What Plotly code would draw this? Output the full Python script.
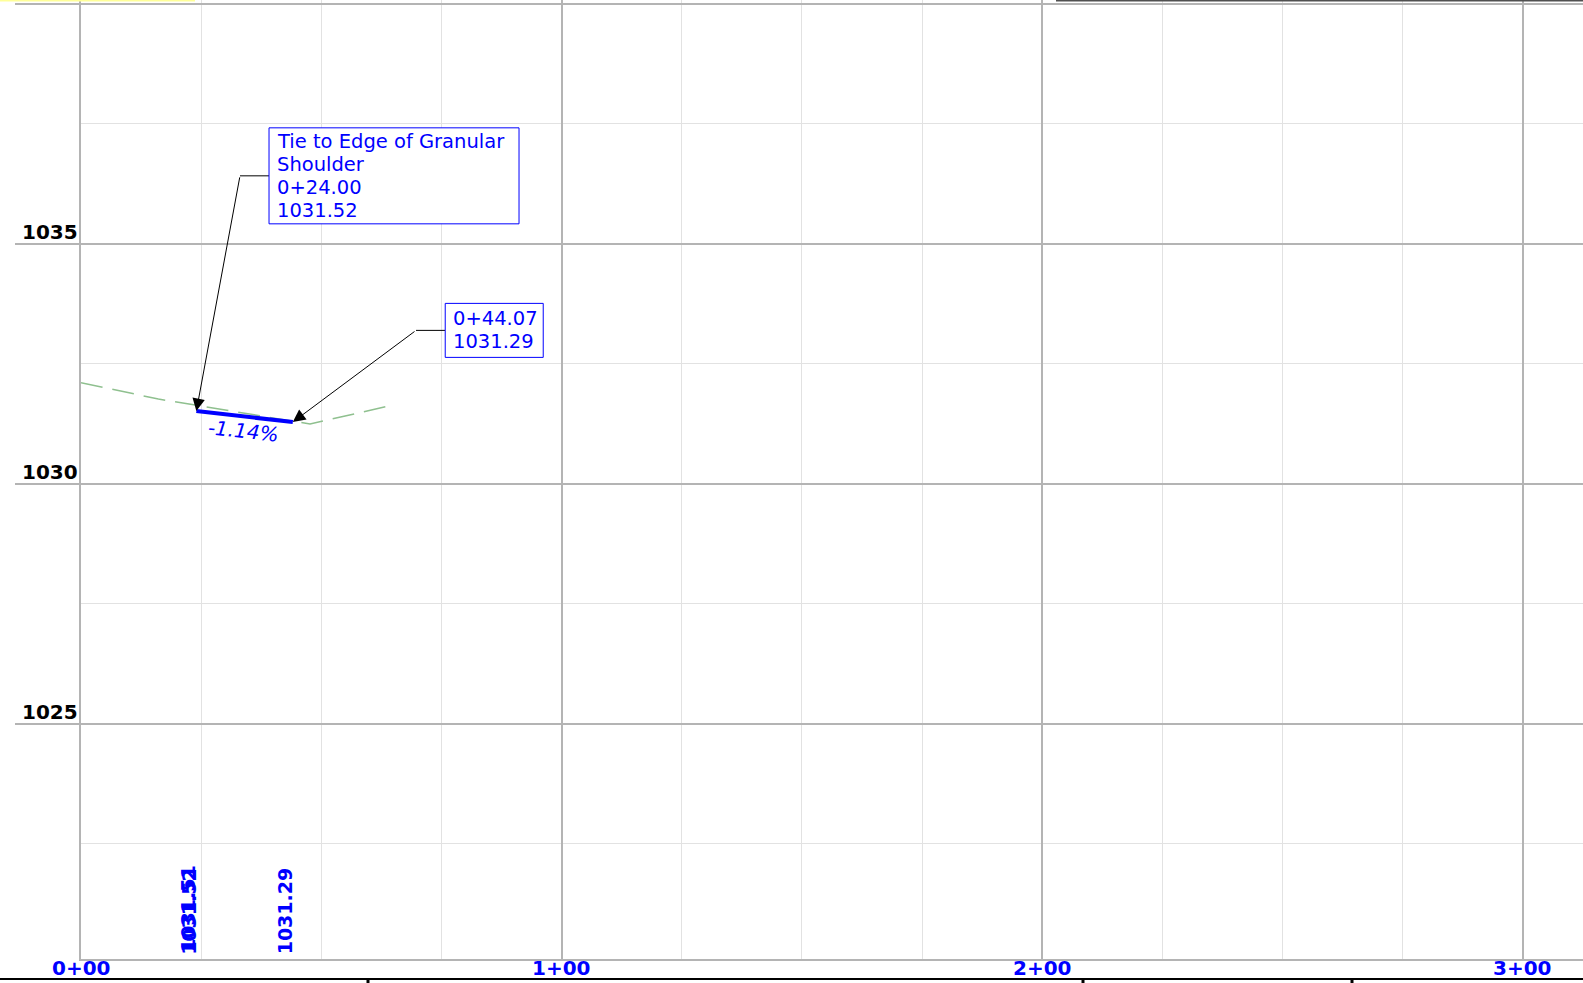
import plotly.graph_objects as go

# ---------------- data ----------------
station_ticks = [0, 100, 200, 300]
station_labels = ["0+00", "1+00", "2+00", "3+00"]
elev_grid = [1025, 1030, 1035, 1040]
elev_label_vals = [1025, 1030, 1035]
elev_label_text = ["1025", "1030", "1035"]

ground_sta = [0.0, 16.1, 47.65, 64.3]
ground_elev = [1032.11, 1031.77, 1031.25, 1031.63]

design_sta = [24.00, 44.07]
design_elev = [1031.52, 1031.29]
slope_text = "-1.14%"
slope_pos = [33.8, 1031.11]

callout1_lines = ["Tie to Edge of Granular", "Shoulder", "0+24.00", "1031.52"]
callout1_elbow = [33.08, 1036.42]
callout1_box_x = 39.12
callout2_lines = ["0+44.07", "1031.29"]
callout2_elbow = [69.70, 1033.20]
callout2_box_x = 75.78

bottom_sta = [23.8, 24.00, 44.07]
bottom_text = ["1031.51", "1031.52", "1031.29"]
bottom_yshift = [5, 2, 3]

X_RANGE = [0, 312.5]
Y_RANGE = [1020.104, 1040.083]

W, H = 1583, 983
ML, MR, MT, MB = 81, 0, 0, 24
PW = W - ML - MR
PH = H - MT - MB

BLUE = "#0000ff"
MAJOR = "#b4b4b4"
MINOR = "#e2e2e2"
FONT = "DejaVu Sans"
TXT = 19.5
LINE_H = 22.9


def px_to_paper_x(px):
    return (px - ML) / PW


def py_to_paper_y(py):
    return (H - MB - py) / PH


fig = go.Figure()

fig.add_trace(go.Scatter(
    x=ground_sta, y=ground_elev, mode="lines",
    line=dict(color="#8fc08f", width=1.5, dash="22px,10px"),
    hoverinfo="skip", showlegend=False))

fig.add_trace(go.Scatter(
    x=design_sta, y=design_elev, mode="lines",
    line=dict(color=BLUE, width=4),
    hoverinfo="skip", showlegend=False))

shapes = []
# left extension of the major elevation gridlines
for v in elev_grid:
    shapes.append(dict(type="line", xref="paper", yref="y",
                       x0=px_to_paper_x(15), x1=0, y0=v, y1=v,
                       line=dict(color=MAJOR, width=2)))

# callout elbows
shapes.append(dict(type="line", xref="x", yref="y",
                   x0=callout1_elbow[0], x1=callout1_box_x,
                   y0=callout1_elbow[1], y1=callout1_elbow[1],
                   line=dict(color="black", width=1)))
shapes.append(dict(type="line", xref="x", yref="y",
                   x0=callout2_elbow[0], x1=callout2_box_x,
                   y0=callout2_elbow[1], y1=callout2_elbow[1],
                   line=dict(color="black", width=1)))

# callout boxes (pixel sized, anchored at the leader end)
for bx, by, bw, bh in [(callout1_box_x, callout1_elbow[1], 250, 96),
                       (callout2_box_x, callout2_elbow[1], 98, 54)]:
    shapes.append(dict(type="rect", xref="x", yref="y",
                       xsizemode="pixel", ysizemode="pixel",
                       xanchor=bx, yanchor=by,
                       x0=0, x1=bw, y0=-bh / 2, y1=bh / 2,
                       line=dict(color=BLUE, width=1), fillcolor="white",
                       layer="above"))

# bottom black rule of the next panel with tick marks
shapes.append(dict(type="line", xref="paper", yref="paper",
                   x0=px_to_paper_x(0), x1=1, y0=py_to_paper_y(979), y1=py_to_paper_y(979),
                   line=dict(color="black", width=2)))
for tx in [368, 1083, 1352]:
    shapes.append(dict(type="line", xref="paper", yref="paper",
                       x0=px_to_paper_x(tx), x1=px_to_paper_x(tx),
                       y0=py_to_paper_y(979), y1=py_to_paper_y(983),
                       line=dict(color="black", width=3)))
# top strips of neighbouring panels
shapes.append(dict(type="line", xref="paper", yref="paper",
                   x0=px_to_paper_x(1056), x1=1, y0=py_to_paper_y(0.8), y1=py_to_paper_y(0.8),
                   line=dict(color="#505050", width=1.6)))
shapes.append(dict(type="rect", xref="paper", yref="paper",
                   x0=px_to_paper_x(0), x1=px_to_paper_x(195),
                   y0=py_to_paper_y(1.5), y1=py_to_paper_y(0),
                   line=dict(width=0), fillcolor="#ffff99"))

annotations = []
# elevation labels (above their gridlines, left of the plot)
for v, t in zip(elev_label_vals, elev_label_text):
    annotations.append(dict(
        xref="paper", yref="y", x=0, y=v, text="<b>" + t + "</b>",
        xanchor="right", yanchor="bottom", xshift=-1, yshift=-2,
        showarrow=False, font=dict(family=FONT, size=20, color="black")))

# station labels under the plot
for s, t in zip(station_ticks, station_labels):
    annotations.append(dict(
        xref="x", yref="paper", x=s, y=py_to_paper_y(968.5),
        text="<b>" + t + "</b>", xanchor="center", yanchor="middle",
        showarrow=False, font=dict(family=FONT, size=20, color=BLUE)))

# leader arrows
annotations.append(dict(
    x=design_sta[0], y=design_elev[0], xref="x", yref="y",
    ax=callout1_elbow[0], ay=callout1_elbow[1], axref="x", ayref="y",
    text="", showarrow=True, arrowhead=2, arrowsize=2.5, arrowwidth=1,
    arrowcolor="black", standoff=0))
annotations.append(dict(
    x=design_sta[1], y=design_elev[1], xref="x", yref="y",
    ax=callout2_elbow[0], ay=callout2_elbow[1], axref="x", ayref="y",
    text="", showarrow=True, arrowhead=2, arrowsize=2.5, arrowwidth=1,
    arrowcolor="black", standoff=0))

# callout text lines
for bx, by, lines in [(callout1_box_x, callout1_elbow[1], callout1_lines),
                      (callout2_box_x, callout2_elbow[1], callout2_lines)]:
    n = len(lines)
    for i, s in enumerate(lines):
        annotations.append(dict(
            x=bx, y=by, xref="x", yref="y",
            xanchor="left", yanchor="middle", align="left",
            xshift=5.5, yshift=-(i - (n - 1) / 2) * LINE_H,
            text=s, showarrow=False,
            font=dict(family=FONT, size=TXT, color=BLUE)))

# slope label
annotations.append(dict(
    x=slope_pos[0], y=slope_pos[1], xref="x", yref="y",
    text="<i>" + slope_text + "</i>", textangle=6, showarrow=False,
    font=dict(family=FONT, size=20, color=BLUE)))

# vertical elevation labels at bottom
for s, t, ys in zip(bottom_sta, bottom_text, bottom_yshift):
    annotations.append(dict(
        x=s, y=0, xref="x", yref="paper", text="<b>" + t + "</b>",
        textangle=-90, xanchor="right", yanchor="bottom", xshift=5, yshift=ys,
        showarrow=False, font=dict(family=FONT, size=19, color=BLUE)))

fig.update_layout(
    width=W, height=H,
    margin=dict(l=ML, r=MR, t=MT, b=MB, pad=0, autoexpand=False),
    plot_bgcolor="white", paper_bgcolor="white",
    showlegend=False,
    shapes=shapes, annotations=annotations,
    xaxis=dict(
        range=X_RANGE, tickmode="array", tickvals=station_ticks,
        showticklabels=False, automargin=False,
        ticks="", showgrid=True, gridcolor=MAJOR, gridwidth=2,
        minor=dict(tick0=0, dtick=25, showgrid=True, gridcolor=MINOR, gridwidth=1),
        showline=True, linecolor=MAJOR, linewidth=2, zeroline=False,
        fixedrange=True),
    yaxis=dict(
        range=Y_RANGE, tickmode="array", tickvals=elev_grid,
        showticklabels=False, ticks="", automargin=False,
        showgrid=True, gridcolor=MAJOR, gridwidth=2,
        minor=dict(tick0=1020, dtick=2.5, showgrid=True, gridcolor=MINOR, gridwidth=1),
        showline=True, linecolor=MAJOR, linewidth=2, zeroline=False,
        fixedrange=True),
)

fig.write_html("out.html", config={"displayModeBar": False},
               post_script="document.body.style.margin='0px';")
